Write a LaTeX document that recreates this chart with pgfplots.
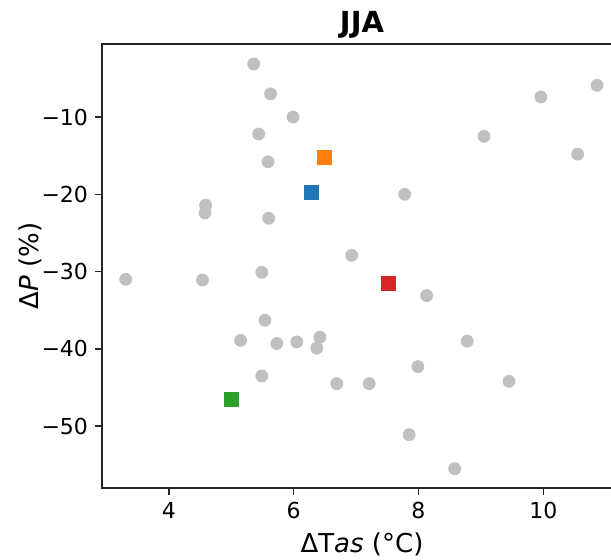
\documentclass[border=0pt]{standalone}
\usepackage{pgfplots}
\pgfplotsset{compat=1.18}
\usepackage{fontspec}
\setmainfont{DejaVu Sans}
\definecolor{tabblue}{HTML}{1F77B4}
\definecolor{taborange}{HTML}{FF7F0E}
\definecolor{tabgreen}{HTML}{2CA02C}
\definecolor{tabred}{HTML}{D62728}
\definecolor{ptgray}{HTML}{C0C0C0}
\begin{document}
\begin{tikzpicture}
\begin{axis}[
  scale only axis,
  width=260pt, height=222pt,
  xmin=2.93, xmax=11.26, ymin=-58, ymax=-0.55,
  axis line style={line width=0.75pt, color=black!85},
  tick style={line width=0.75pt, color=black!85},
  tick align=outside,
  major tick length=3.5pt,
  xtick={4,6,8,10}, xticklabels={4,6,8,10},
  ytick={-50,-40,-30,-20,-10}, yticklabels={−50,−40,−30,−20,−10},
  xtick pos=bottom, ytick pos=left,
  ticklabel style={font=\fontsize{11}{13}\selectfont},
  xlabel={ΔT\textit{as} (°C)},
  ylabel={Δ\textit{P} (\%)},
  label style={font=\fontsize{13}{15}\selectfont},
  xlabel style={at={(axis description cs:0.5,0)}, anchor=base, yshift=-32.5pt},
  ylabel style={at={(axis description cs:0,0.5)}, anchor=center, yshift=36pt},
  title={\bfseries JJA},
  title style={font=\fontsize{14.5}{16}\selectfont, at={(axis description cs:0.5,1)}, anchor=base, yshift=-0.5pt},
]
\addplot[only marks, mark=*, mark size=3pt, mark options={fill=ptgray, draw=ptgray}] coordinates {
(5.36,-3.13) (5.63,-7.0) (5.99,-10.0) (5.44,-12.2) (5.59,-15.8)
(4.59,-21.4) (4.58,-22.4) (5.60,-23.1) (3.31,-31.0) (4.54,-31.1)
(5.49,-30.1) (5.54,-36.3) (5.15,-38.9) (5.73,-39.3) (6.05,-39.1)
(6.42,-38.5) (6.37,-39.9) (5.49,-43.5) (6.69,-44.5) (7.21,-44.5)
(6.93,-27.9) (7.78,-20.0) (8.13,-33.1) (7.99,-42.3) (8.78,-39.0)
(7.85,-51.1) (8.58,-55.5) (9.05,-12.5) (9.96,-7.4) (10.55,-14.8)
(10.86,-5.9) (9.45,-44.2)
};
\addplot[only marks, mark=square*, mark size=4pt, mark options={fill=taborange, draw=white, line width=0.4pt}] coordinates {(6.50,-15.2)};
\addplot[only marks, mark=square*, mark size=4pt, mark options={fill=tabblue, draw=white, line width=0.4pt}] coordinates {(6.29,-19.8)};
\addplot[only marks, mark=square*, mark size=4pt, mark options={fill=tabred, draw=white, line width=0.4pt}] coordinates {(7.51,-31.5)};
\addplot[only marks, mark=square*, mark size=4pt, mark options={fill=tabgreen, draw=white, line width=0.4pt}] coordinates {(5.01,-46.5)};
\end{axis}
\pgfresetboundingbox
\useasboundingbox (-51pt,-36pt) rectangle (254.5pt,244pt);
\end{tikzpicture}
\end{document}
